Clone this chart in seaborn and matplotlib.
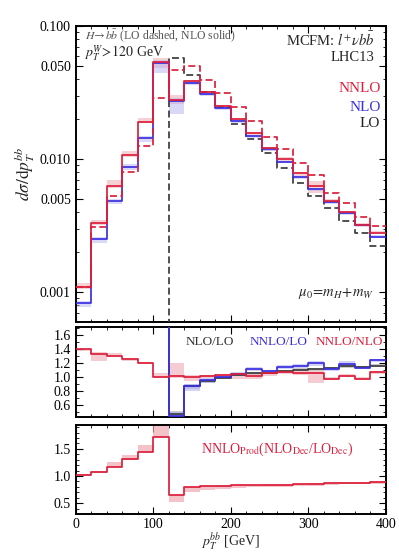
import numpy as np
import pandas as pd
import matplotlib
matplotlib.use("Agg")
import matplotlib.pyplot as plt
import seaborn as sns
from matplotlib.ticker import FixedLocator, MultipleLocator, NullFormatter, FixedFormatter

# ---------------- data ----------------
edges = list(range(0, 420, 20))          # p_T^bb bin edges [GeV]

# main panel: dsigma/dpT  (20 bins)
nnlo_nlodec = [0.00110, 0.00334, 0.00631, 0.01072, 0.01918, 0.0536, 0.0278, 0.0386, 0.0321, 0.0252,
               0.0200, 0.0158, 0.01203, 0.0101, 0.00785, 0.00631, 0.00486, 0.00403, 0.00323, 0.00281]
nnlo_lodec = [0.00109, 0.00308, 0.00525, 0.00798, 0.01259, 0.0289, 0.0469, 0.0498, 0.0394, 0.0315,
              0.0247, 0.0195, 0.01472, 0.0119, 0.00933, 0.00758, 0.00555, 0.00471, 0.00365, 0.00315]
nlo_nlodec = [0.000826, 0.00250, 0.00489, 0.00878, 0.01439, 0.0524, 0.0273, 0.0375, 0.0308, 0.0241,
              0.0193, 0.0150, 0.01189, 0.00958, 0.00736, 0.00595, 0.00478, 0.00393, 0.00318, 0.00262]
lo_lodec = [0, 0, 0, 0, 0, 0, 0.0574, 0.0431, 0.0321, 0.0245,
            0.0184, 0.01416, 0.01104, 0.0086, 0.00668, 0.0053, 0.00428, 0.00345, 0.00281, 0.00223]

# relative scale-variation bands
nnlo_up = [0.06, 0.05, 0.10, 0.08, 0.06, 0.08, 0.10, 0.02, 0.02, 0.02,
           0.02, 0.02, 0.02, 0.03, 0.02, 0.09, 0.03, 0.02, 0.02, 0.02]
nnlo_dn = [0.04, 0.04, 0.03, 0.03, 0.03, 0.10, 0.06, 0.05, 0.05, 0.05,
           0.04, 0.04, 0.04, 0.04, 0.04, 0.11, 0.03, 0.03, 0.03, 0.03]
nlo_up = [0.04, 0.04, 0.03, 0.04, 0.04, 0.06, 0.06, 0.02, 0.02, 0.02,
          0.02, 0.02, 0.02, 0.02, 0.02, 0.02, 0.02, 0.02, 0.02, 0.02]
nlo_dn = [0.06, 0.06, 0.06, 0.06, 0.06, 0.15, 0.20, 0.03, 0.03, 0.03,
          0.03, 0.03, 0.03, 0.03, 0.03, 0.03, 0.03, 0.03, 0.03, 0.03]

# ratio panel (1e3 = off-scale, LO vanishes below 120 GeV)
r_nlo_lo = [1e3, 1e3, 1e3, 1e3, 1e3, 1e3, 0.47, 0.87, 0.94, 0.99,
            1.03, 1.05, 1.06, 1.08, 1.10, 1.11, 1.12, 1.15, 1.14, 1.16]
r_nlo_lo_lo = [1e3, 1e3, 1e3, 1e3, 1e3, 1e3, 0.44, 0.83, 0.92, 0.97,
               1.01, 1.03, 1.04, 1.06, 1.08, 1.09, 1.10, 1.13, 1.12, 1.14]
r_nlo_lo_hi = [1e3, 1e3, 1e3, 1e3, 1e3, 1e3, 0.52, 0.90, 0.96, 1.01,
               1.05, 1.07, 1.08, 1.10, 1.12, 1.13, 1.14, 1.17, 1.16, 1.18]
r_nnlo_lo = [1e3, 1e3, 1e3, 1e3, 1e3, 1e3, 0.45, 0.87, 0.96, 1.00,
             1.04, 1.11, 1.08, 1.14, 1.15, 1.20, 1.11, 1.19, 1.13, 1.24]
r_nnlo_lo_lo = [1e3, 1e3, 1e3, 1e3, 1e3, 1e3, 0.43, 0.80, 0.92, 0.98,
                1.02, 1.08, 1.06, 1.11, 1.12, 1.16, 1.09, 1.16, 1.11, 1.21]
r_nnlo_lo_hi = [1e3, 1e3, 1e3, 1e3, 1e3, 1e3, 0.50, 0.90, 0.99, 1.03,
                1.07, 1.14, 1.10, 1.17, 1.18, 1.23, 1.14, 1.22, 1.16, 1.26]
r_nnlo_nlo = [1.39, 1.32, 1.29, 1.25, 1.20, 1.00, 1.02, 1.00, 1.02, 1.03,
              1.04, 1.02, 1.05, 1.07, 1.06, 1.05, 0.97, 1.02, 0.97, 1.07]
r_nnlo_nlo_lo = [1.37, 1.23, 1.28, 1.23, 1.18, 0.99, 0.98, 0.94, 0.99, 0.99,
                 0.97, 0.97, 1.02, 1.04, 1.03, 0.92, 0.95, 1.00, 0.96, 1.04]
r_nnlo_nlo_hi = [1.40, 1.35, 1.34, 1.27, 1.21, 1.05, 1.20, 1.03, 1.03, 1.04,
                 1.04, 1.05, 1.06, 1.08, 1.08, 1.08, 1.00, 1.04, 1.00, 1.08]

# bottom panel
r_prod = [1.02, 1.08, 1.17, 1.31, 1.45, 1.72, 0.65, 0.79, 0.81, 0.82,
          0.83, 0.83, 0.84, 0.84, 0.85, 0.86, 0.87, 0.88, 0.88, 0.89]
r_prod_lo = [1.00, 1.06, 1.16, 1.30, 1.44, 1.71, 0.52, 0.71, 0.74, 0.76,
             0.78, 0.79, 0.80, 0.80, 0.81, 0.82, 0.84, 0.85, 0.85, 0.86]
r_prod_hi = [1.03, 1.09, 1.25, 1.38, 1.57, 2.00, 0.66, 0.80, 0.82, 0.83,
             0.84, 0.84, 0.85, 0.85, 0.86, 0.87, 0.88, 0.89, 0.89, 0.90]

# ---------------- style ----------------
sns.set_style("ticks")
plt.rcParams["font.family"] = ["Liberation Serif", "DejaVu Serif"]
plt.rcParams["mathtext.fontset"] = "stix"

RED = "#dc1f3c"
BLUE = "#3a2fe0"
DARK = "#3c3c3c"
PINK = "#eeaab3"
LBLUE = "#b4b4f0"
GREY = "#9a9a9a"

fig = plt.figure(figsize=(3.99, 5.54), dpi=100)
ax1 = fig.add_axes([0.190, 0.419, 0.777, 0.534])
ax2 = fig.add_axes([0.190, 0.247, 0.777, 0.163])
ax3 = fig.add_axes([0.190, 0.072, 0.777, 0.161])

E = np.array(edges, dtype=float)


def ext(v):
    v = list(v)
    return v + [v[-1]]


def step(ax, vals, color, dashed=False, lw=1.25, z=3):
    df = pd.DataFrame({"x": E, "y": ext(vals)})
    kw = dict(linestyle=(0, (4, 2))) if dashed else {}
    sns.lineplot(data=df, x="x", y="y", ax=ax, color=color, lw=lw, drawstyle="steps-post",
                 estimator=None, sort=False, legend=False, zorder=z, **kw)


def band(ax, lo, hi, color, alpha=0.55):
    ax.fill_between(E, ext(lo), ext(hi), step="post", color=color, alpha=alpha, lw=0, zorder=1)


# ---- main panel ----
v_nn = np.array(nnlo_nlodec)
v_n = np.array(nlo_nlodec)
band(ax1, v_nn * (1 - np.array(nnlo_dn)), v_nn * (1 + np.array(nnlo_up)), PINK)
band(ax1, v_n * (1 - np.array(nlo_dn)), v_n * (1 + np.array(nlo_up)), LBLUE, alpha=0.5)
step(ax1, lo_lodec, DARK, dashed=True)
step(ax1, nlo_nlodec, BLUE)
step(ax1, nnlo_lodec, RED, dashed=True)
step(ax1, nnlo_nlodec, RED)
ax1.set_yscale("log")
ax1.set_ylim(0.0006, 0.1)
ax1.set_xlim(0, 400)
ax1.yaxis.set_major_locator(FixedLocator([0.001, 0.005, 0.01, 0.05, 0.1]))
ax1.yaxis.set_major_formatter(FixedFormatter(["0.001", "0.005", "0.010", "0.050", "0.100"]))
minor = [m * 10.0 ** e for e in (-4, -3, -2) for m in range(2, 10)]
ax1.yaxis.set_minor_locator(FixedLocator(minor))
ax1.yaxis.set_minor_formatter(NullFormatter())
ax1.set_ylabel(r"$d\sigma/\mathrm{d}p_T^{bb}$", fontsize=12.5, labelpad=2)
ax1.set_xlabel("")

tx = dict(transform=ax1.transAxes)
ax1.text(0.03, 0.968, r"$H\!\to\! b\bar{b}$ (LO dashed, NLO solid)", color="#555555", fontsize=8.5,
         ha="left", va="center", **tx)
ax1.text(0.025, 0.906, r"$p_T^W\!>\!120$ GeV", fontsize=10, ha="left", va="center", **tx)
ax1.text(0.965, 0.953, r"MCFM: $l^{+}\nu b\bar{b}$", fontsize=10.5, ha="right", va="center", **tx)
ax1.text(0.965, 0.895, "LHC13", fontsize=10.5, ha="right", va="center", **tx)
ax1.text(0.984, 0.79, "NNLO", color=RED, fontsize=11, ha="right", va="center", **tx)
ax1.text(0.984, 0.726, "NLO", color=BLUE, fontsize=11, ha="right", va="center", **tx)
ax1.text(0.982, 0.672, "LO", color="#222222", fontsize=11, ha="right", va="center", **tx)
ax1.text(0.961, 0.095, r"$\mu_0\!=\!m_H\!+\!m_W$", fontsize=10.5, ha="right", va="center", **tx)

# ---- ratio panel ----
band(ax2, r_nlo_lo_lo, r_nlo_lo_hi, GREY, alpha=0.5)
band(ax2, r_nnlo_lo_lo, r_nnlo_lo_hi, LBLUE, alpha=0.6)
band(ax2, r_nnlo_nlo_lo, r_nnlo_nlo_hi, PINK, alpha=0.6)
step(ax2, r_nlo_lo, DARK)
step(ax2, r_nnlo_lo, BLUE)
step(ax2, r_nnlo_nlo, RED)
ax2.set_ylim(0.43, 1.71)
ax2.set_xlim(0, 400)
ax2.yaxis.set_major_locator(FixedLocator([0.6, 0.8, 1.0, 1.2, 1.4, 1.6]))
ax2.yaxis.set_major_formatter(FixedFormatter(["0.6", "0.8", "1.0", "1.2", "1.4", "1.6"]))
ax2.yaxis.set_minor_locator(MultipleLocator(0.1))
ax2.set_xlabel("")
ax2.set_ylabel("")
t2 = dict(transform=ax2.transAxes, fontsize=9.5, ha="left", va="center")
ax2.text(0.355, 0.833, "NLO/LO", color="#333333", **t2)
ax2.text(0.561, 0.833, "NNLO/LO", color=BLUE, **t2)
ax2.text(0.774, 0.833, "NNLO/NLO", color=RED, **t2)

# ---- bottom panel ----
band(ax3, r_prod_lo, r_prod_hi, PINK, alpha=0.7)
step(ax3, r_prod, RED)
ax3.set_ylim(0.3, 1.94)
ax3.set_xlim(0, 400)
ax3.yaxis.set_major_locator(FixedLocator([0.5, 1.0, 1.5]))
ax3.yaxis.set_major_formatter(FixedFormatter(["0.5", "1.0", "1.5"]))
ax3.yaxis.set_minor_locator(MultipleLocator(0.1))
ax3.set_ylabel("")
ax3.set_xlabel(r"$p_T^{bb}$ [GeV]", fontsize=10, labelpad=0)
ax3.text(0.65, 0.73, r"NNLO$_{\rm Prod}$(NLO$_{\rm Dec}$/LO$_{\rm Dec}$)", color=RED, fontsize=10,
         ha="center", va="center", transform=ax3.transAxes)

for ax in (ax1, ax2, ax3):
    ax.xaxis.set_major_locator(MultipleLocator(100))
    ax.xaxis.set_minor_locator(MultipleLocator(20))
    ax.tick_params(which="both", direction="in", top=True, right=True, labelsize=10, colors="black")
    ax.tick_params(which="major", length=5, width=0.8)
    ax.tick_params(which="minor", length=2.5, width=0.6)
    for s in ax.spines.values():
        s.set_linewidth(1.4)
        s.set_color("black")
    ax.set_facecolor("white")
for ax in (ax1, ax2):
    ax.tick_params(labelbottom=False)
ax3.xaxis.set_major_formatter(FixedFormatter(["0", "100", "200", "300", "400"]))
ax3.xaxis.set_major_locator(FixedLocator([0, 100, 200, 300, 400]))
ax3.tick_params(axis="x", pad=3)

# vertical black dashed line at 120 is part of the LO step (LO = 0 below)
fig.savefig("out.png", dpi=100, facecolor="white")
